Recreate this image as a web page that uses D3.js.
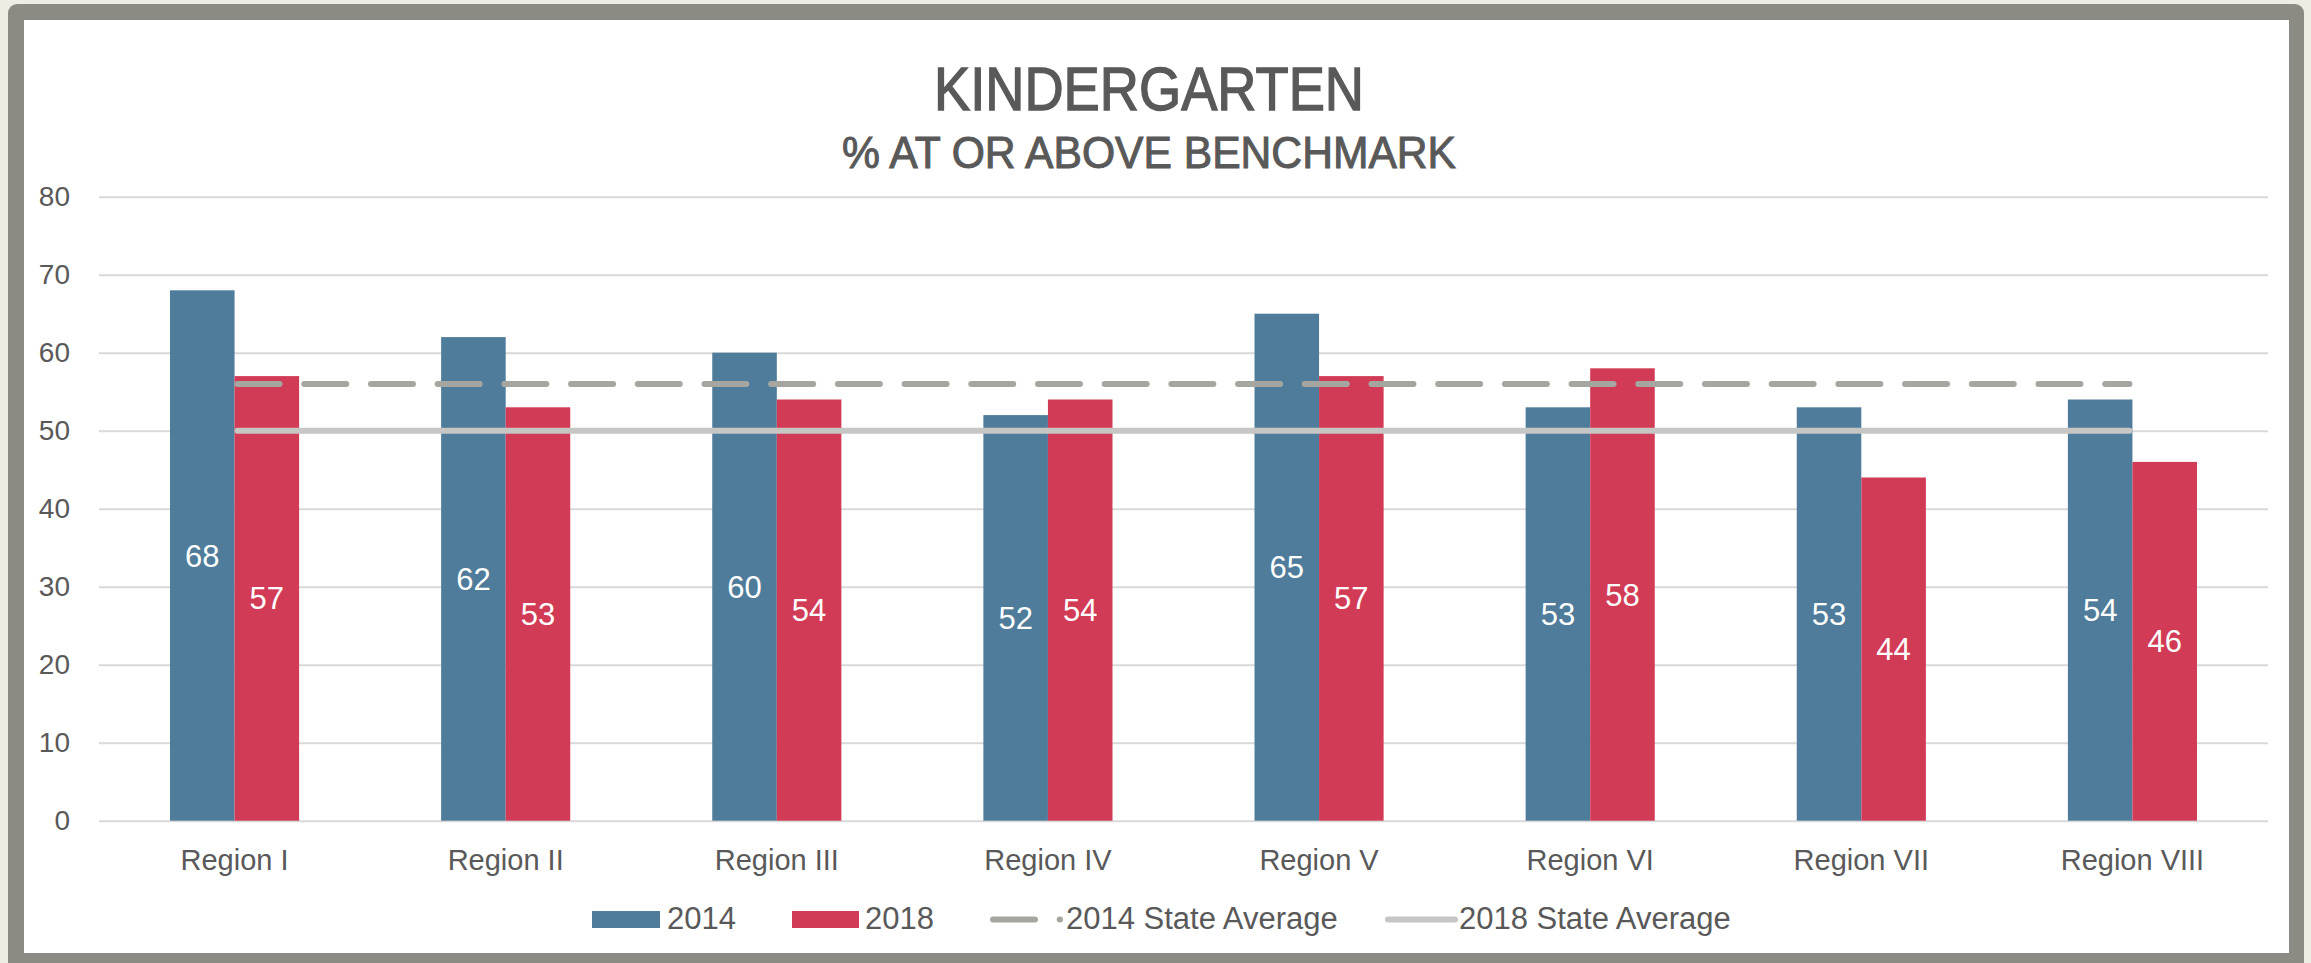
<!DOCTYPE html>
<html>
<head>
<meta charset="utf-8">
<script src="https://cdn.jsdelivr.net/npm/d3@7"></script>
<style>
  body { margin: 0; background: #efece4; }
  svg { display: block; }
  text { font-family: "Liberation Sans", Arial, sans-serif; fill: #595959; }
</style>
</head>
<body>
<svg id="chart" width="2311" height="963"></svg>
<script>
// chart data
const regions = ["Region I", "Region II", "Region III", "Region IV", "Region V", "Region VI", "Region VII", "Region VIII"];
const years = ["2014", "2018"];
const values2014 = [68, 62, 60, 52, 65, 53, 53, 54];
const values2018 = [57, 53, 54, 54, 57, 58, 44, 46];
const stateAvg2014 = 56;
const stateAvg2018 = 50;
const yTicks = [0, 10, 20, 30, 40, 50, 60, 70, 80];

const colors = { "2014": "#4e7c9a", "2018": "#d23b56" };

const svg = d3.select('#chart');

// frame
svg.append('rect')
  .attr('x', 8).attr('y', 4).attr('width', 2296).attr('height', 990)
  .attr('rx', 9).attr('fill', '#8b8b84');
svg.append('rect')
  .attr('x', 24).attr('y', 20).attr('width', 2265).attr('height', 933)
  .attr('fill', '#ffffff');

// title (slightly heavier than regular, like the original)
svg.append('text')
  .attr('x', 1149).attr('y', 110)
  .attr('text-anchor', 'middle')
  .attr('textLength', 430).attr('lengthAdjust', 'spacingAndGlyphs')
  .style('font-size', '62px')
  .style('stroke', '#595959').style('stroke-width', 1.4)
  .text('KINDERGARTEN');
svg.append('text')
  .attr('x', 1149).attr('y', 168)
  .attr('text-anchor', 'middle')
  .attr('textLength', 614).attr('lengthAdjust', 'spacingAndGlyphs')
  .style('font-size', '44px')
  .style('stroke', '#595959').style('stroke-width', 1)
  .text('% AT OR ABOVE BENCHMARK');

// scales
const x0 = d3.scaleBand().domain(regions).range([99, 2268]).paddingInner(0);
const x1 = d3.scaleBand().domain(years).range([0, x0.bandwidth()]).paddingInner(0).paddingOuter(1.1);
const y = d3.scaleLinear().domain([0, 80]).range([820.7, 196.7]);

// gridlines + y labels
const yAxis = d3.axisLeft(y).tickValues(yTicks).tickSize(-(2268 - 99)).tickPadding(29);
const gy = svg.append('g')
  .attr('transform', 'translate(99,0)')
  .call(yAxis);
gy.select('.domain').remove();
gy.selectAll('.tick line').attr('stroke', '#d9d9d9').attr('stroke-width', 2);
gy.selectAll('.tick text')
  .style('font-size', '28px')
  .style('font-family', '"Liberation Sans", Arial, sans-serif')
  .attr('fill', '#595959');

// bars
const rows = regions.map((r, i) => ({ region: r, vals: [
  { year: "2014", value: values2014[i] },
  { year: "2018", value: values2018[i] }
]}));

const groups = svg.append('g').selectAll('g')
  .data(rows)
  .join('g')
  .attr('transform', d => 'translate(' + x0(d.region) + ',0)');

groups.selectAll('rect')
  .data(d => d.vals)
  .join('rect')
  .attr('x', d => x1(d.year))
  .attr('y', d => y(d.value))
  .attr('width', x1.bandwidth())
  .attr('height', d => y(0) - y(d.value))
  .attr('fill', d => colors[d.year]);

// state average lines
const lineX = [x0(regions[0]) + x0.bandwidth() / 2, x0(regions[regions.length - 1]) + x0.bandwidth() / 2];
svg.append('line')
  .attr('x1', lineX[0] + 3).attr('x2', lineX[1] - 3)
  .attr('y1', y(stateAvg2018)).attr('y2', y(stateAvg2018))
  .attr('stroke', '#c6c6c4').attr('stroke-width', 6)
  .attr('stroke-linecap', 'round');
svg.append('line')
  .attr('x1', lineX[0] + 3).attr('x2', lineX[1] - 3)
  .attr('y1', y(stateAvg2014)).attr('y2', y(stateAvg2014))
  .attr('stroke', '#a6a6a1').attr('stroke-width', 6)
  .attr('stroke-linecap', 'round')
  .attr('stroke-dasharray', '42,24.7');

// data labels
groups.selectAll('text.val')
  .data(d => d.vals)
  .join('text')
  .attr('class', 'val')
  .attr('x', d => x1(d.year) + x1.bandwidth() / 2)
  .attr('y', d => (y(d.value) + y(0)) / 2 + 11)
  .attr('text-anchor', 'middle')
  .style('font-size', '31px')
  .style('fill', '#ffffff')
  .text(d => d.value);

// x labels
svg.append('g').selectAll('text')
  .data(regions)
  .join('text')
  .attr('x', d => x0(d) + x0.bandwidth() / 2)
  .attr('y', 870)
  .attr('text-anchor', 'middle')
  .style('font-size', '29px')
  .text(d => d);

// legend
const legend = svg.append('g');
legend.append('rect').attr('x', 592).attr('y', 911).attr('width', 68).attr('height', 17).attr('fill', colors["2014"]);
legend.append('text').attr('x', 667).attr('y', 929).style('font-size', '31px').text('2014');
legend.append('rect').attr('x', 792).attr('y', 911).attr('width', 67).attr('height', 17).attr('fill', colors["2018"]);
legend.append('text').attr('x', 865).attr('y', 929).style('font-size', '31px').text('2018');
legend.append('line')
  .attr('x1', 993).attr('x2', 1060).attr('y1', 919.5).attr('y2', 919.5)
  .attr('stroke', '#a6a6a1').attr('stroke-width', 6)
  .attr('stroke-linecap', 'round').attr('stroke-dasharray', '42,24.7');
legend.append('text').attr('x', 1066).attr('y', 929).style('font-size', '31px').text('2014 State Average');
legend.append('line')
  .attr('x1', 1388).attr('x2', 1455).attr('y1', 919.5).attr('y2', 919.5)
  .attr('stroke', '#c6c6c4').attr('stroke-width', 6)
  .attr('stroke-linecap', 'round');
legend.append('text').attr('x', 1459).attr('y', 929).style('font-size', '31px').text('2018 State Average');
</script>
</body>
</html>
